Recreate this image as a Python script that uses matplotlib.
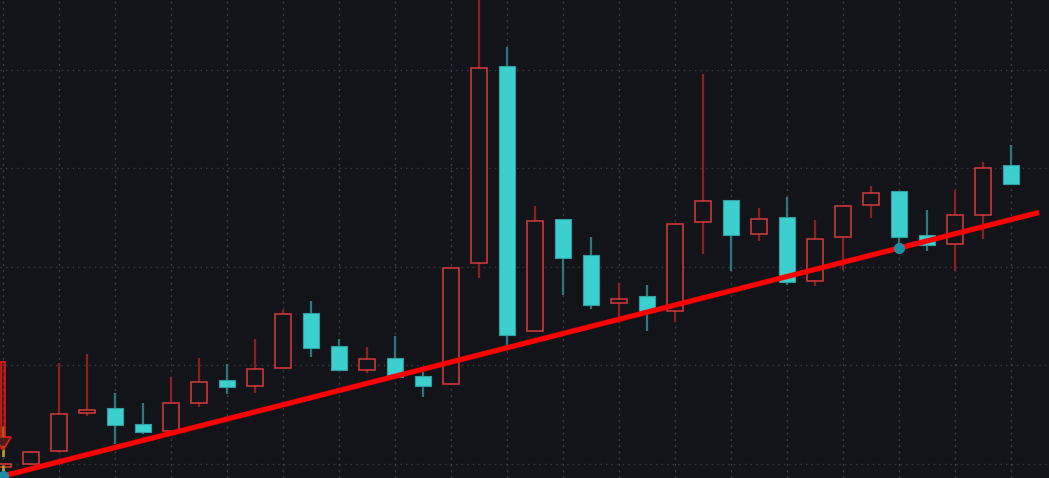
import matplotlib
matplotlib.use("Agg")
import matplotlib.pyplot as plt
from matplotlib.patches import Rectangle, Polygon

# ---- data (price units) ----
opens  = [1.985, 2.000, 2.066, 2.259, 2.284, 2.203, 2.168, 2.310, 2.426, 2.396,
          2.487, 2.766, 2.599, 2.477, 2.538, 2.447, 2.406, 3.020, 4.020, 2.675,
          3.244, 3.061, 2.817, 2.853, 2.777, 3.228, 3.340, 3.168, 3.254, 2.929,
          3.152, 3.315, 3.386, 3.162, 3.117, 3.264, 3.518]
highs  = [2.000, 2.066, 2.513, 2.558, 2.360, 2.310, 2.442, 2.538, 2.508, 2.635,
          2.782, 2.827, 2.635, 2.594, 2.650, 2.467, 3.000, 4.370, 4.117, 3.310,
          3.244, 3.152, 2.919, 2.909, 3.218, 3.980, 3.340, 3.299, 3.355, 3.239,
          3.310, 3.411, 3.386, 3.289, 3.391, 3.533, 3.619]
lows   = [1.985, 1.995, 2.066, 2.244, 2.102, 2.152, 2.168, 2.289, 2.355, 2.360,
          2.487, 2.543, 2.472, 2.462, 2.437, 2.340, 2.406, 2.944, 2.599, 2.675,
          2.858, 2.787, 2.716, 2.675, 2.721, 3.066, 2.980, 3.132, 2.909, 2.904,
          2.985, 3.249, 3.096, 3.081, 2.980, 3.142, 3.421]
closes = [2.000, 2.061, 2.254, 2.274, 2.198, 2.160, 2.310, 2.416, 2.391, 2.482,
          2.761, 2.589, 2.477, 2.533, 2.442, 2.396, 2.995, 4.010, 2.655, 3.234,
          3.046, 2.807, 2.838, 2.777, 3.218, 3.335, 3.162, 3.244, 2.924, 3.142,
          3.310, 3.376, 3.152, 3.112, 3.264, 3.503, 3.421]

trend_x = [0, 32]
trend_y = [1.939, 3.096]
trend_end_x = 37.0

signal_x = 0
signal_top = 2.518
signal_head = 2.137
signal_tip = 2.071
guide_top = 2.223
guide_bottom = 1.939

price_grid = [2.0, 2.5, 3.0, 3.5, 4.0]

# ---- style ----
BG = "#131419"
GRID = "#3a3c44"
UP_EDGE = "#d93a3c"
UP_WICK = "#8e1e22"
DN_BODY = "#3ccfcf"
DN_EDGE = "#2f9fa1"
DN_WICK = "#2a7a7c"
BODY_W = 0.58

fig = plt.figure(figsize=(10.49, 4.78), dpi=100, facecolor=BG)
ax = fig.add_axes([0, 0, 1, 1])
ax.set_facecolor(BG)
for s in ax.spines.values():
    s.set_visible(False)
ax.set_xticks([])
ax.set_yticks([])

n = len(opens)
ax.set_xlim(-0.107, 37.357)
ax.set_ylim(1.929, 4.355)

for g in price_grid:
    ax.axhline(g, color=GRID, lw=1.0, ls=(0, (1, 3)), zorder=0)
for i in range(0, n, 2):
    ax.axvline(i, color=GRID, lw=1.0, ls=(0, (1.5, 3)), zorder=0)

for i in range(n):
    o, h, l, c = opens[i], highs[i], lows[i], closes[i]
    up = c >= o
    top, bot = max(o, c), min(o, c)
    if up:
        ax.plot([i, i], [top, h], color=UP_WICK, lw=1.6, zorder=2, solid_capstyle="butt")
        ax.plot([i, i], [l, bot], color=UP_WICK, lw=1.6, zorder=2, solid_capstyle="butt")
        ax.add_patch(Rectangle((i - BODY_W / 2, bot), BODY_W, max(top - bot, 0.004),
                               facecolor=BG, edgecolor=UP_EDGE, lw=1.1, zorder=3))
    else:
        ax.plot([i, i], [l, h], color=DN_WICK, lw=1.6, zorder=2, solid_capstyle="butt")
        ax.add_patch(Rectangle((i - BODY_W / 2, bot), BODY_W, max(top - bot, 0.004),
                               facecolor=DN_BODY, edgecolor=DN_EDGE, lw=0.8, zorder=3))

# signal arrow + guide at first bar
ax.plot([signal_x, signal_x], [guide_bottom, guide_top], color="#a8a020", lw=2.0,
        ls=(0, (4, 3)), zorder=4)
hw_shaft, hw_head = 0.07, 0.29
arrow = Polygon([(signal_x - hw_shaft, signal_top), (signal_x + hw_shaft, signal_top),
                 (signal_x + hw_shaft, signal_head), (signal_x + hw_head, signal_head),
                 (signal_x, signal_tip), (signal_x - hw_head, signal_head),
                 (signal_x - hw_shaft, signal_head)],
                closed=True, facecolor=(0.55, 0.15, 0.1, 0.45), edgecolor="#e01a1a",
                lw=1.2, zorder=4)
ax.add_patch(arrow)

# trend line
slope = (trend_y[1] - trend_y[0]) / (trend_x[1] - trend_x[0])
x0 = -0.2
xs = [x0, trend_end_x]
ys = [trend_y[0] + slope * (x - trend_x[0]) for x in xs]
ax.plot(xs, ys, color="#ff0000", lw=3.8, zorder=5, solid_capstyle="butt")
ax.plot(trend_x, trend_y, "o", color="#1b8fa8", ms=7, zorder=6)

fig.savefig("out.png", dpi=100, facecolor=BG)
